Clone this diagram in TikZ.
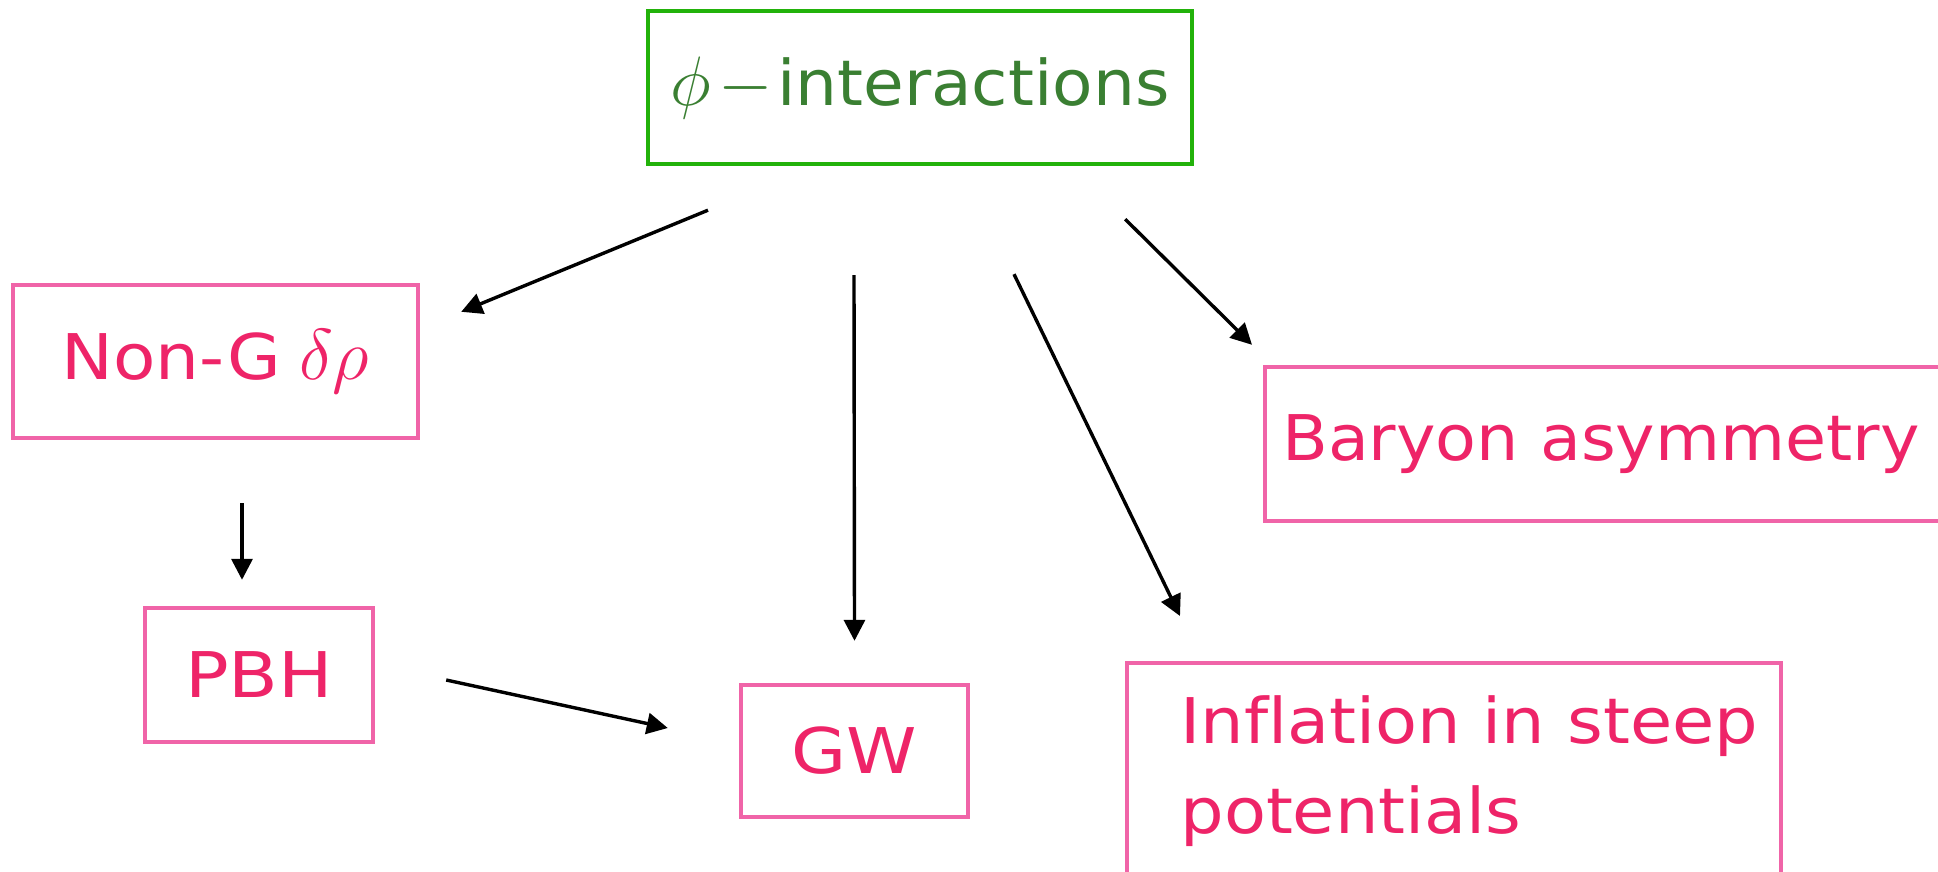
\RequirePackage{fix-cm}
\documentclass[tikz,border=0pt]{standalone}
\usepackage{fontspec}
\newfontfamily\lbl{DejaVu Sans}[Ligatures=CommonOff]
\usetikzlibrary{arrows.meta}
\definecolor{framegreen}{RGB}{34,178,10}
\definecolor{inkgreen}{RGB}{58,127,50}
\definecolor{framepink}{RGB}{240,100,168}
\definecolor{inkpink}{RGB}{238,36,104}
\begin{document}
\begin{tikzpicture}[x=0.5pt,y=-0.5pt,
  box/.style={draw=framepink, line width=2.2pt, rectangle, inner sep=0pt,
    text=inkpink, font=\lbl\fontsize{31.5}{45}\selectfont},
  topbox/.style={box, draw=framegreen, text=inkgreen},
  arr/.style={line width=1.7pt, -{Triangle[length=10.5pt,width=10.5pt]}}]
  \useasboundingbox (0,0) rectangle (1938,872);

  % boxes
  \node[topbox, minimum width=272pt, minimum height=76.5pt] (phi) at (920,87.5)
    {\addfontfeatures{FakeStretch=1.05}{\fontsize{35}{45}\selectfont$\phi\mkern2mu{-}\mkern1mu$}interactions};
  \node[box, minimum width=202.5pt, minimum height=76.5pt] (nong) at (215.5,361.5)
    {\addfontfeatures{FakeStretch=1.1}Non-G\hspace{9pt}{\fontsize{36}{45}\selectfont$\delta\rho$}};
  \node[box, minimum width=114pt, minimum height=67pt] (pbh) at (259,675)
    {\addfontfeatures{FakeStretch=1.15}PBH};
  \node[box, minimum width=113.5pt, minimum height=66pt] (gw) at (854.5,751)
    {\addfontfeatures{FakeStretch=1.13}GW};
  \node[box, anchor=west, minimum height=77pt, text width=351.5pt, inner xsep=8.5pt,
    align=left] (bary) at (1263,444)
    {\addfontfeatures{FakeStretch=1.06}Baryon asymmetry};
  \node[box, anchor=north west, minimum width=327pt, minimum height=150pt] (infl) at (1125,661) {};
  \node[anchor=north west, inner sep=0pt, align=left, text=inkpink,
    font=\lbl\fontsize{31.5}{45}\selectfont\addfontfeatures{FakeStretch=1.09}]
    (infltext) at (1180,695) {Inflation in steep\\potentials};

  % connectors
  \draw[arr] ([xshift=-106pt,yshift=-22pt]phi.south) -- ([xshift=20.5pt,yshift=-14.5pt]nong.north east);
  \draw[arr] ([xshift=-33pt,yshift=-54.5pt]phi.south) -- ([yshift=21pt]gw.north);
  \draw[arr] ([xshift=47pt,yshift=-54pt]phi.south) -- ([xshift=27.5pt,yshift=22.5pt]infl.north west);
  \draw[arr] ([xshift=-34.5pt,yshift=-26.5pt]phi.south east) -- ([xshift=-5.5pt,yshift=10pt]bary.north west);
  \draw[arr] ([xshift=13.25pt,yshift=-31.5pt]nong.south) -- ([xshift=-8.5pt,yshift=13pt]pbh.north);
  \draw[arr] ([xshift=35.5pt,yshift=-2.5pt]pbh.east) -- ([xshift=-35.5pt,yshift=11.5pt]gw.west);
\end{tikzpicture}
\end{document}
